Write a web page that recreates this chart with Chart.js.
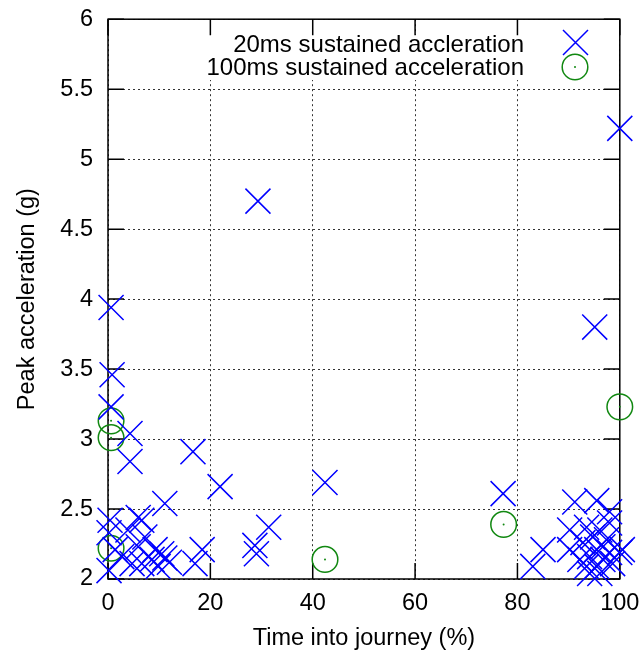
<!DOCTYPE html>
<html>
<head>
<meta charset="utf-8">
<script src="https://cdn.jsdelivr.net/npm/chart.js@4/dist/chart.umd.min.js"></script>
<style>
  html, body { margin: 0; padding: 0; background: #fff; }
  #plot { display: block; }
</style>
</head>
<body>
<canvas id="plot" width="639" height="655"></canvas>
<script>
// data
const seriesLabels = ["20ms sustained accleration", "100ms sustained acceleration"];

const accel20X = [
  29.3, 100, 95.1, 77.2, 42.4, 31.4, 28.7, 29.0, 21.9, 16.6, 4.3, 4.3, 0.6, 0.8, 0.6, 11.1,
  0.4, 5.9, 6.6, 3.9, 0.2, 7.2, 5.9, 9.2, 10.5, 8.6, 11.1, 2.7, 6.6, 9.8, 0.2, 17.0, 18.4, 1.4, 4.7, 12.0,
  91.2, 95.5, 98.0, 90.2, 93.5, 85.0, 83.0, 90.2, 92.8, 94.7, 96.1, 98.0, 100, 92.2, 94.1, 95.5,
  96.7, 97.4, 93.5, 95.5, 96.7, 98.0, 98.6, 96.1, 94.1, 100.5
];
const accel20Y = [
  4.70, 5.22, 3.80, 2.61, 2.69, 2.37, 2.24, 2.18, 2.66, 2.91, 3.04, 2.84, 3.94, 3.46, 3.23, 2.54,
  2.42, 2.44, 2.42, 2.35, 2.33, 2.30, 2.23, 2.21, 2.18, 2.14, 2.15, 2.16, 2.11, 2.09, 2.06, 2.11, 2.21, 2.21, 2.11, 2.12,
  2.55, 2.56, 2.48, 2.35, 2.37, 2.21, 2.09, 2.21, 2.26, 2.30, 2.35, 2.40, 2.19, 2.14, 2.16, 2.21,
  2.23, 2.28, 2.09, 2.09, 2.14, 2.19, 2.11, 2.04, 2.04, 2.21
];

const accel100X = [0.6, 0.6, 0.6, 42.4, 77.3, 100];
const accel100Y = [3.13, 3.01, 2.22, 2.14, 2.39, 3.23];

const xTicks = [0, 20, 40, 60, 80, 100];
const yTicks = [2, 2.5, 3, 3.5, 4, 4.5, 5, 5.5, 6];

const xTitle = "Time into journey (%)";
const yTitle = "Peak acceleration (g)";

const FONT = "'Liberation Sans', Arial, sans-serif";
const AXIS_SIZE = 23.5;
const BLUE = "#0000ff";
const GREEN = "#118811";

function toPoints(xs, ys) {
  return xs.map((x, i) => ({ x: x, y: ys[i] }));
}

// frame, inner ticks and blanked key area, gnuplot style
const framePlugin = {
  id: "frame",
  beforeDatasetsDraw(chart) {
    const { ctx, chartArea: a, scales } = chart;
    ctx.save();
    ctx.fillStyle = "#fff";
    ctx.fillRect(200, 35, 400, 45);

    ctx.strokeStyle = "#000";
    ctx.lineWidth = 1.5;
    ctx.setLineDash([]);
    const len = 16;
    ctx.beginPath();
    xTicks.forEach(v => {
      const px = scales.x.getPixelForValue(v);
      ctx.moveTo(px, a.bottom); ctx.lineTo(px, a.bottom - len);
      ctx.moveTo(px, a.top); ctx.lineTo(px, a.top + len);
    });
    yTicks.forEach(v => {
      const py = scales.y.getPixelForValue(v);
      ctx.moveTo(a.left, py); ctx.lineTo(a.left + len, py);
      ctx.moveTo(a.right, py); ctx.lineTo(a.right - len, py);
    });
    ctx.stroke();
    ctx.strokeRect(a.left, a.top, a.right - a.left, a.bottom - a.top);
    ctx.restore();
  }
};

// key: text right aligned, sample marker on the right
const keyPlugin = {
  id: "key",
  afterDatasetsDraw(chart) {
    const ctx = chart.ctx;
    ctx.save();
    ctx.font = "24px " + FONT;
    ctx.fillStyle = "#000";
    ctx.textAlign = "right";
    ctx.textBaseline = "middle";
    ctx.fillText(seriesLabels[0], 524, 45);
    ctx.fillText(seriesLabels[1], 524, 68);

    ctx.lineWidth = 1.5;
    ctx.strokeStyle = BLUE;
    ctx.beginPath();
    ctx.moveTo(563, 30); ctx.lineTo(588, 55);
    ctx.moveTo(563, 55); ctx.lineTo(588, 30);
    ctx.stroke();

    ctx.strokeStyle = GREEN;
    ctx.beginPath();
    ctx.arc(575, 67, 12.8, 0, Math.PI * 2);
    ctx.stroke();
    ctx.fillStyle = GREEN;
    ctx.beginPath();
    ctx.arc(575, 67, 1, 0, Math.PI * 2);
    ctx.fill();
    ctx.restore();
  }
};

const config = {
  type: "scatter",
  data: {
    datasets: [
      {
        label: seriesLabels[0],
        data: toPoints(accel20X, accel20Y),
        pointStyle: "crossRot",
        pointRadius: 17.7,
        pointHoverRadius: 17.7,
        borderColor: BLUE,
        borderWidth: 1.5,
        clip: false
      },
      {
        label: seriesLabels[1],
        data: toPoints(accel100X, accel100Y),
        pointStyle: "circle",
        pointRadius: 12.8,
        pointHoverRadius: 12.8,
        borderColor: GREEN,
        backgroundColor: "rgba(0,0,0,0)",
        borderWidth: 1.5,
        clip: false
      },
      {
        label: "centre dots",
        data: toPoints(accel100X, accel100Y),
        pointStyle: "circle",
        pointRadius: 1,
        pointHoverRadius: 1,
        borderWidth: 0,
        backgroundColor: GREEN,
        clip: false
      }
    ]
  },
  options: {
    responsive: false,
    animation: false,
    events: [],
    layout: {
      padding: { top: 18, right: 19, left: 0, bottom: 0 }
    },
    scales: {
      x: {
        type: "linear",
        min: 0,
        max: 100,
        afterFit: (s) => { s.height = 76; s.paddingLeft = 0; s.paddingRight = 0; },
        afterBuildTicks: (s) => { s.ticks = xTicks.map(v => ({ value: v })); },
        ticks: {
          color: "#000",
          padding: 10,
          maxRotation: 0,
          font: { family: FONT, size: AXIS_SIZE },
          callback: (v) => String(v)
        },
        grid: { color: "#333", lineWidth: 1, drawTicks: false },
        border: { display: false, dash: [2, 3] },
        title: {
          display: true,
          text: xTitle,
          color: "#000",
          font: { family: FONT, size: AXIS_SIZE },
          padding: { top: 0, bottom: 2 }
        }
      },
      y: {
        type: "linear",
        min: 2,
        max: 6,
        afterFit: (s) => { s.width = 108; s.paddingTop = 0; s.paddingBottom = 0; },
        afterBuildTicks: (s) => { s.ticks = yTicks.map(v => ({ value: v })); },
        ticks: {
          color: "#000",
          padding: 15,
          font: { family: FONT, size: AXIS_SIZE },
          callback: (v) => String(v)
        },
        grid: { color: "#333", lineWidth: 1, drawTicks: false },
        border: { display: false, dash: [2, 3] },
        title: {
          display: true,
          text: yTitle,
          color: "#000",
          font: { family: FONT, size: AXIS_SIZE },
          padding: { top: 13, bottom: 0 }
        }
      }
    },
    plugins: {
      legend: { display: false },
      tooltip: { enabled: false }
    }
  },
  plugins: [framePlugin, keyPlugin]
};

new Chart(document.getElementById("plot"), config);
</script>
</body>
</html>
